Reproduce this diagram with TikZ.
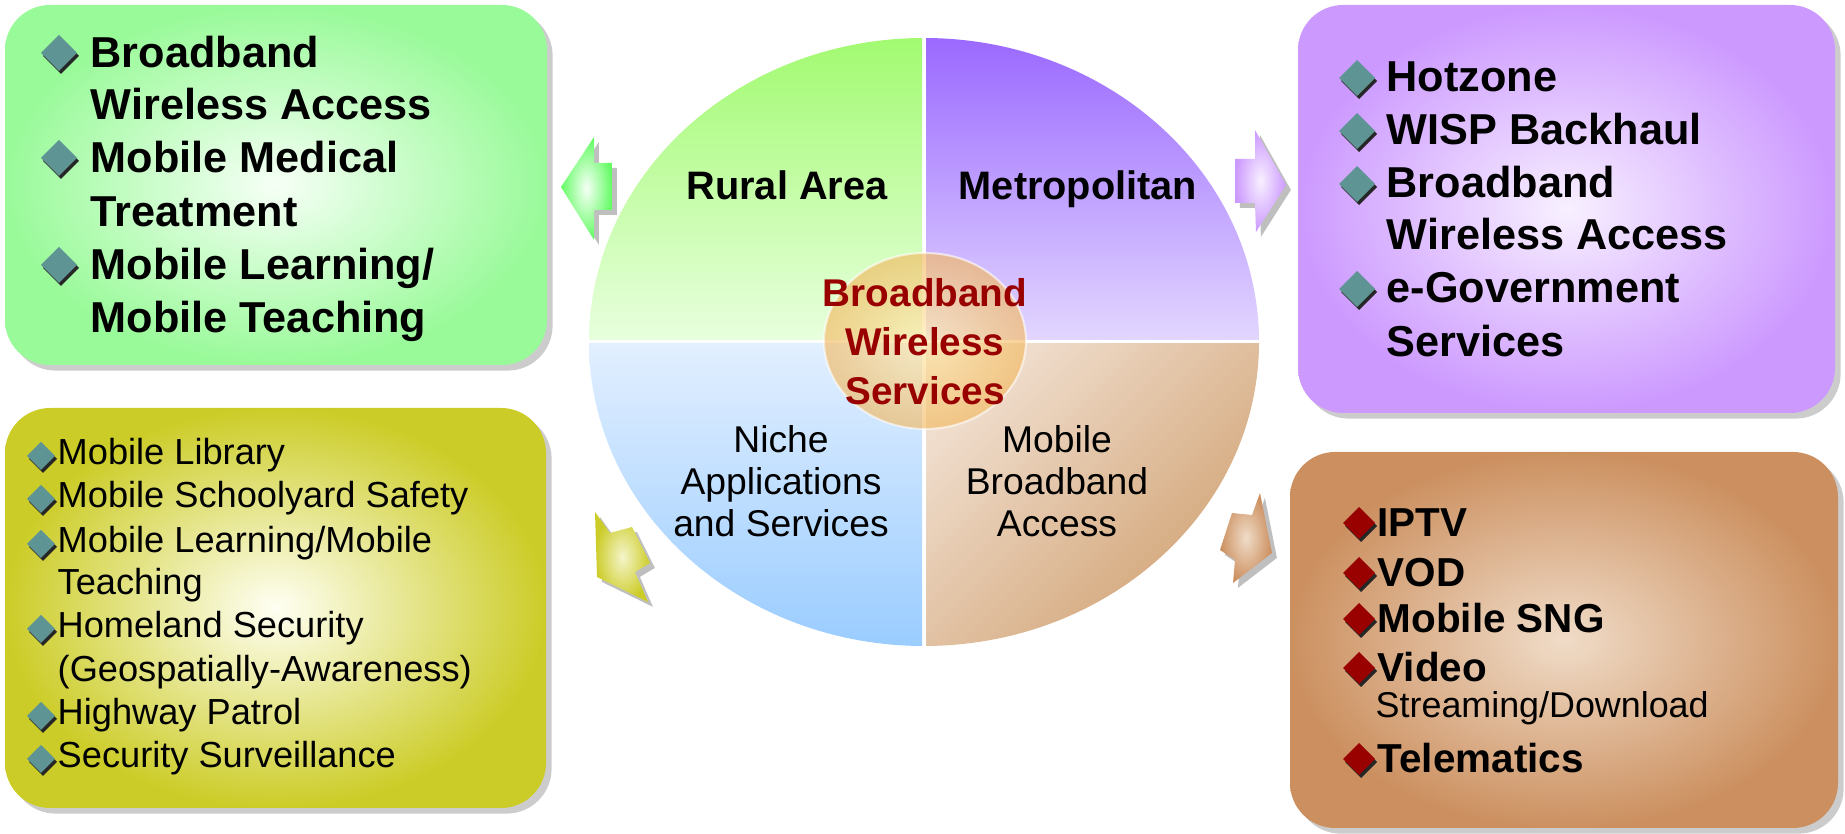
\documentclass[tikz,border=0pt]{standalone}
\usepackage{fontspec}
\setmainfont{Liberation Sans}
\usetikzlibrary{shadows}

\definecolor{greenTop}{HTML}{A0FA6E}
\definecolor{greenBot}{HTML}{E8FFDE}
\definecolor{purpTop}{HTML}{9966FF}
\definecolor{purpBot}{HTML}{E2D6FF}
\definecolor{blueTop}{HTML}{E2EFFF}
\definecolor{blueBot}{HTML}{99CCFF}
\definecolor{brownPale}{HTML}{F0DECE}
\definecolor{brownDark}{HTML}{D0A070}
\definecolor{greenOut}{HTML}{99FA99}
\definecolor{greenIn}{HTML}{F6FFF6}
\definecolor{purpOut}{HTML}{CC99FF}
\definecolor{purpIn}{HTML}{F8F0FF}
\definecolor{yellowOut}{HTML}{CCCC28}
\definecolor{yellowIn}{HTML}{FFFFF4}
\definecolor{brownOut}{HTML}{CC9060}
\definecolor{brownIn}{HTML}{F0DCC8}
\definecolor{centerIn}{HTML}{FFE9A8}
\definecolor{centerOut}{HTML}{F2B860}
\definecolor{bulletTeal}{HTML}{5F9494}
\definecolor{bulletRed}{HTML}{990000}
\definecolor{darkRed}{HTML}{990000}

\tikzset{
  box/.style={rounded corners=0.45cm, drop shadow={shadow xshift=1.6pt, shadow yshift=-1.6pt, opacity=0.4}},
  blockarrow/.style={drop shadow={shadow xshift=1.4pt, shadow yshift=-1.4pt, opacity=0.5}},
  bigitem/.style={anchor=base west, inner sep=0pt, font=\bfseries\fontsize{12.3}{15}\selectfont},
  smallitem/.style={anchor=base west, inner sep=0pt, font=\fontsize{10.3}{12}\selectfont},
  brownitem/.style={anchor=base west, inner sep=0pt, font=\bfseries\fontsize{11.5}{14}\selectfont},
  quadlabel/.style={align=center, inner sep=0pt, font=\fontsize{10.6}{12}\selectfont},
  quadtitle/.style={anchor=base, inner sep=0pt, font=\bfseries\fontsize{11.3}{13}\selectfont}
}

% diamond bullet: x, y, half size, colour
\newcommand{\itembullet}[4]{%
  \fill[black!85] (#1-#3+2,#2+3) -- (#1+2,#2-#3+3) -- (#1+#3+2,#2+3) -- (#1+2,#2+#3+3) -- cycle;
  \fill[#4] (#1-#3,#2) -- (#1,#2-#3) -- (#1+#3,#2) -- (#1,#2+#3) -- cycle;
}

\begin{document}
\begin{tikzpicture}[x=0.01cm, y=-0.01cm]
  \useasboundingbox (0,0) rectangle (1845,834);

  % centre disc, four quarters
  \begin{scope}
    \clip (924,342) ellipse [x radius=335, y radius=304];
    \shade[top color=greenTop, bottom color=greenBot] (580,30) rectangle (922,340);
    \shade[top color=purpTop, bottom color=purpBot] (926,30) rectangle (1265,340);
    \shade[top color=blueTop, bottom color=blueBot] (580,344) rectangle (922,650);
    \shade[top color=brownPale, bottom color=brownDark, shading angle=45] (926,344) rectangle (1265,650);
  \end{scope}
  \shade[inner color=centerIn, outer color=centerOut, opacity=0.65] (925,341) ellipse [x radius=101, y radius=88];
  \draw[white, opacity=0.6, line width=0.6pt] (925,341) ellipse [x radius=101, y radius=88];

  \node[quadtitle] (rural) at (787,200) {Rural Area};
  \node[quadtitle] (metro) at (1078,200) {Metropolitan};
  \node[quadlabel] (niche) at (781,481) {Niche\\Applications\\and Services};
  \node[quadlabel] (mobile) at (1057,481) {Mobile\\Broadband\\Access};
  \node[quadlabel, font=\bfseries\fontsize{11}{13.9}\selectfont, text=darkRed] (bws) at (925,342) {Broadband\\Wireless\\Services};

  % block arrows
  \shade[blockarrow, inner color=greenIn, outer color=green!35!greenOut] (561,187) -- (594,137) -- (594,163) -- (612,163) -- (612,210) -- (594,210) -- (594,240) -- cycle;
  \shade[blockarrow, inner color=purpIn, outer color=purpOut] (1286,185) -- (1255,130) -- (1255,159) -- (1235,159) -- (1235,203) -- (1255,203) -- (1256,232) -- cycle;
  \shade[blockarrow, inner color=yellowIn!80!yellowOut, outer color=yellowOut] (595,512) -- (610,533) -- (632,527) -- (650,563) -- (635,572) -- (648,602) -- (597,577) -- cycle;
  \shade[blockarrow, inner color=brownIn, outer color=brownOut] (1260,493) -- (1272,553) -- (1233,583) -- (1235,560) -- (1220,550) -- (1232,513) -- (1252,515) -- cycle;

  % green box
  \shade[box, inner color=greenIn, outer color=greenOut] (5,5) rectangle (547,365);
  \foreach \y/\bl/\txt [count=\i] in {68/1/Broadband, 120/0/Wireless Access, 173/1/Mobile Medical, 227/0/Treatment, 280/1/{Mobile Learning/}, 333/0/Mobile Teaching}{
    \ifnum\bl=1 \itembullet{59}{\y-15}{18}{bulletTeal}\fi
    \node[bigitem] (green\i) at (90,\y) {\txt};
  }

  % purple box
  \shade[box, inner color=purpIn, outer color=purpOut] (1298,5) rectangle (1835,413);
  \foreach \y/\bl/\txt [count=\i] in {92/1/Hotzone, 145/1/WISP Backhaul, 198/1/Broadband, 250/0/Wireless Access, 303/1/e-Government, 357/0/Services}{
    \ifnum\bl=1 \itembullet{1357}{\y-14}{18}{bulletTeal}\fi
    \node[bigitem] (purple\i) at (1386,\y) {\txt};
  }

  % yellow box
  \shade[box, inner color=yellowIn, outer color=yellowOut] (5,408) rectangle (546,808);
  \foreach \y/\bl/\txt [count=\i] in {465/1/Mobile Library, 508/1/Mobile Schoolyard Safety, 553/1/{Mobile Learning/Mobile}, 595/0/Teaching, 638/1/Homeland Security, 682/0/{(Geospatially-Awareness)}, 725/1/Highway Patrol, 768/1/Security Surveillance}{
    \ifnum\bl=1 \itembullet{41}{\y-9}{14}{bulletTeal}\fi
    \node[smallitem] (yellow\i) at (57,\y) {\txt};
  }

  % brown box
  \shade[box, inner color=brownIn, outer color=brownOut] (1290,452) rectangle (1838,828);
  \foreach \y/\txt [count=\i] in {537/IPTV, 587/VOD, 633/Mobile SNG, 682/Video, 773/Telematics}{
    \itembullet{1359}{\y-14}{16}{bulletRed}
    \node[brownitem] (brown\i) at (1377,\y) {\txt};
  }
  \node[smallitem, font=\fontsize{10.2}{12}\selectfont] (stream) at (1375,718) {Streaming/Download};
\end{tikzpicture}
\end{document}
